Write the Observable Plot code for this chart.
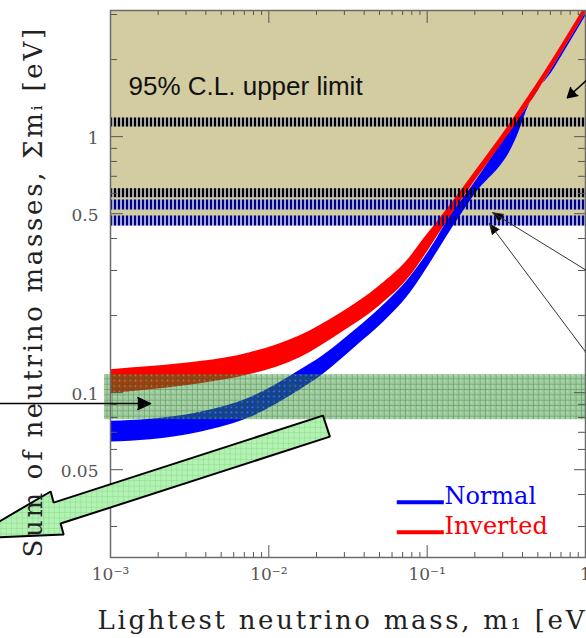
<!DOCTYPE html>
<html>
<head>
<meta charset="utf-8">
<script src="https://cdn.jsdelivr.net/npm/d3@7"></script>
<script src="https://cdn.jsdelivr.net/npm/@observablehq/plot@0.6"></script>
<style>
  body { margin: 0; background: #fff; }
</style>
</head>
<body>
<div id="chart"></div>
<script>
// ---------- data ----------
const xTickValues = [0.001, 0.01, 0.1, 1];
const xTickLabels = ["10⁻³", "10⁻²", "10⁻¹", "1"];
const xMinorTicks = [0.002, 0.003, 0.004, 0.005, 0.006, 0.007, 0.008, 0.009,
                     0.02, 0.03, 0.04, 0.05, 0.06, 0.07, 0.08, 0.09,
                     0.2, 0.3, 0.4, 0.5, 0.6, 0.7, 0.8, 0.9];
const yTickValues = [0.05, 0.1, 0.5, 1];
const yTickLabels = ["0.05", "0.1", "0.5", "1"];
const yMinorTicks = [0.03, 0.04, 0.06, 0.07, 0.08, 0.09, 0.2, 0.3, 0.4, 0.6, 0.7, 0.8, 0.9, 2, 3];

// Normal hierarchy band (lightest mass m1, lower / upper sum of masses)
const normalM1   = [0.001, 0.00179, 0.00369, 0.00762, 0.01574, 0.02198, 0.0281, 0.03597, 0.0502, 0.0776, 0.110, 0.1330, 0.1936, 0.383, 0.418, 0.637, 1.0];
const normalLow  = [0.0641, 0.0655, 0.0701, 0.0799, 0.1023, 0.1176, 0.1334, 0.1526, 0.1827, 0.2436, 0.3368, 0.4068, 0.5777, 1.056, 1.230, 1.852, 2.944];
const normalHigh = [0.0774, 0.0788, 0.0839, 0.0956, 0.1224, 0.1395, 0.1568, 0.1778, 0.2129, 0.2813, 0.3819, 0.4656, 0.6436, 1.186, 1.275, 1.911, 3.024];

// Inverted hierarchy band
const invertedM1   = [0.001, 0.00179, 0.00369, 0.00762, 0.01574, 0.0281, 0.0502, 0.0776, 0.0966, 0.120, 0.1727, 0.3565, 0.637, 1.0];
const invertedLow  = [0.0991, 0.1027, 0.1084, 0.1176, 0.1370, 0.1700, 0.2187, 0.2838, 0.3429, 0.4217, 0.5884, 1.099, 1.911, 3.024];
const invertedHigh = [0.1230, 0.1264, 0.1322, 0.1433, 0.1670, 0.2035, 0.2618, 0.3368, 0.4033, 0.4782, 0.6436, 1.192, 2.054, 3.249];

// 95% C.L. upper limits
const upperLimitRegion = [0.449, 3.11];      // shaded region of sum of masses
const blackLimitLines = [1.14, 0.604];
const blueLimitLines  = [0.543, 0.47];
const greenBand = [0.0784, 0.1176];

// annotations (data coordinates)
const leftArrow = [{m1a: 0.0002, sa: 0.0906, m1b: 0.00179, sb: 0.0906}];
const rightArrows = [
  {m1a: 1.02, sa: 0.2996, m1b: 0.2588, sb: 0.505},
  {m1a: 1.02, sa: 0.142,  m1b: 0.2477, sb: 0.457}
];
const topArrow = [{m1a: 1.08, sa: 1.72, m1b: 0.769, sb: 1.42}];
const bigArrowM1 = [0.02198, 0.02431, 0.000484, 0.000506, 0.0001294, 0.000419, 0.000437, 0.02198];
const bigArrowS  = [0.0813, 0.0673, 0.0308, 0.0279, 0.0269, 0.0411, 0.0372, 0.0813];

const legendNames  = ["Normal", "Inverted"];
const legendColors = ["#0000ff", "#ff0000"];
const legendSigma  = [0.0373, 0.0285];
const legendTextSigma = [0.0368, 0.0281];

// ---------- tables ----------
const normal = normalM1.map((m, i) => ({m1: m, low: normalLow[i], high: normalHigh[i]}));
const inverted = invertedM1.map((m, i) => ({m1: m, low: invertedLow[i], high: invertedHigh[i]}));
const bigArrow = bigArrowM1.map((m, i) => ({m1: m, s: bigArrowS[i]}));
const legend = legendNames.map((n, i) => ({name: n, color: legendColors[i], s: legendSigma[i], ts: legendTextSigma[i]}));

const W = 586, H = 638;
const mTop = 10, mRight = 1, mBottom = 81, mLeft = 110;
const frameW = W - mLeft - mRight;
const frameH = H - mTop - mBottom;
const xDomain = [0.001, 1];
const yDomain = [0.0227, 3.11];

const tickColor = "#555";
const serif = "DejaVu Serif";

const svg = Plot.plot({
  width: W,
  height: H,
  marginTop: mTop,
  marginRight: mRight,
  marginBottom: mBottom,
  marginLeft: mLeft,
  style: {fontFamily: serif, fontSize: "17px", background: "#fff", overflow: "hidden"},
  x: {type: "log", domain: xDomain, axis: null},
  y: {type: "log", domain: yDomain, axis: null},
  marks: [
    // shaded upper-limit region
    Plot.rect([upperLimitRegion], {x1: () => xDomain[0], x2: () => xDomain[1], y1: d => d[0], y2: d => d[1], fill: "#d3cca1"}),
    // backgrounds of hatched limit lines
    Plot.ruleY(blackLimitLines, {y: d => d, stroke: "#a6a6a6", strokeWidth: 9}),
    Plot.ruleY(blueLimitLines, {y: d => d, stroke: "#a3a7cc", strokeWidth: 10}),
    // bands
    Plot.areaY(normal, {x: "m1", y1: "low", y2: "high", fill: "#0000ff", curve: "monotone-x", clip: true}),
    Plot.areaY(inverted, {x: "m1", y1: "low", y2: "high", fill: "#ff0000", curve: "monotone-x", clip: true}),
    // dashes of limit lines
    Plot.ruleY(blackLimitLines, {y: d => d, stroke: "#000", strokeWidth: 9, strokeDasharray: "2 2"}),
    Plot.ruleY(blueLimitLines, {y: d => d, stroke: "#000088", strokeWidth: 10, strokeDasharray: "2 2"}),
    // green hatched band
    Plot.rect([greenBand], {x1: () => xDomain[0], x2: () => xDomain[1], y1: d => d[0], y2: d => d[1], fill: "url(#gHatch)", insetLeft: -6}),
    // ticks
    Plot.tickX(xMinorTicks, {x: d => d, insetTop: frameH - 5, stroke: tickColor}),
    Plot.tickX(xTickValues, {x: d => d, insetTop: frameH - 12, stroke: tickColor}),
    Plot.tickX(xMinorTicks, {x: d => d, insetBottom: frameH - 5, stroke: tickColor}),
    Plot.tickX(xTickValues, {x: d => d, insetBottom: frameH - 13, stroke: tickColor}),
    Plot.tickY(yMinorTicks, {y: d => d, insetRight: frameW - 7, stroke: tickColor}),
    Plot.tickY(yTickValues, {y: d => d, insetRight: frameW - 13, stroke: tickColor}),
    Plot.tickY(yMinorTicks, {y: d => d, insetLeft: frameW - 7, stroke: tickColor}),
    Plot.tickY(yTickValues, {y: d => d, insetLeft: frameW - 11, stroke: tickColor}),
    Plot.frame({stroke: "#6b6b6b", strokeWidth: 1.5}),
    Plot.axisX({ticks: xTickValues, tickFormat: d => xTickLabels[xTickValues.indexOf(d)], tickSize: 0, tickPadding: 10, fontSize: 17, fill: "#555", label: null}),
    Plot.axisY({ticks: yTickValues, tickFormat: d => yTickLabels[yTickValues.indexOf(d)], tickSize: 0, tickPadding: 12, fontSize: 17, fill: "#555", label: null, dy: 2}),
    // annotation arrows
    Plot.arrow(leftArrow, {x1: "m1a", y1: "sa", x2: "m1b", y2: "sb", stroke: "#000", fill: "#000", strokeWidth: 1.5, headLength: 14, headAngle: 50}),
    Plot.arrow(rightArrows, {x1: "m1a", y1: "sa", x2: "m1b", y2: "sb", stroke: "#333", fill: "#000", strokeWidth: 1, headLength: 17, headAngle: 45}),
    Plot.arrow(topArrow, {x1: "m1a", y1: "sa", x2: "m1b", y2: "sb", stroke: "#000", fill: "#000", strokeWidth: 1.5, headLength: 20, headAngle: 60}),
    // big green arrow
    Plot.line(bigArrow, {x: "m1", y: "s", fill: "url(#lHatch)", stroke: "#000", strokeWidth: 2, strokeLinejoin: "miter", curve: "linear"}),
    // legend
    Plot.link(legend, {x1: () => 0.0643, x2: () => 0.1274, y1: "s", y2: "s", stroke: "color", strokeWidth: 4}),
    Plot.text(legend, {x: () => 0.1285, y: "ts", text: "name", fill: "color", textAnchor: "start", lineAnchor: "bottom", fontSize: 24, fontFamily: serif}),
    // texts
    Plot.text(["95% C.L. upper limit"], {text: d => d, frameAnchor: "top-left", dx: 18, dy: 84, textAnchor: "start", lineAnchor: "bottom", fontFamily: "Liberation Sans", fontSize: 26, fill: "#111"}),
    Plot.text(["Lightest neutrino mass, m₁ [eV]"], {text: d => d, frameAnchor: "bottom-left", dx: -13, dy: 71, textAnchor: "start", lineAnchor: "bottom", fontFamily: serif, fontSize: 26, fill: "#222"}),
    Plot.text(["Sum of neutrino masses, Σmᵢ [eV]"], {text: d => d, frameAnchor: "bottom-left", dx: -69, dy: 0, rotate: -90, textAnchor: "start", lineAnchor: "bottom", fontFamily: serif, fontSize: 26, fill: "#222"})
  ]
});

// hatch patterns
const defs = document.createElementNS("http://www.w3.org/2000/svg", "defs");
defs.innerHTML = `
  <pattern id="gHatch" patternUnits="userSpaceOnUse" width="5.33" height="5.33">
    <rect width="5.33" height="5.33" fill="#2c8c2c" fill-opacity="0.45"></rect>
    <rect x="1.5" y="1.5" width="1.4" height="1.4" fill="#ffffff" fill-opacity="0.35"></rect>
    <path d="M0,0H5.33M0,0V5.33" stroke="#0d660d" stroke-width="0.9" stroke-opacity="0.6"></path>
  </pattern>
  <pattern id="lHatch" patternUnits="userSpaceOnUse" width="5.33" height="5.33">
    <rect width="5.33" height="5.33" fill="#b2f2b2"></rect>
    <path d="M0,0H5.33M0,0V5.33" stroke="#7ccf7c" stroke-width="0.7"></path>
  </pattern>`;
svg.insertBefore(defs, svg.firstChild);

// letter spacing of the axis titles
svg.querySelectorAll("text").forEach(t => {
  const s = t.textContent;
  if (s.startsWith("Lightest") || s.startsWith("Sum of")) t.setAttribute("letter-spacing", "2.7");
});

document.getElementById("chart").appendChild(svg);
</script>
</body>
</html>
